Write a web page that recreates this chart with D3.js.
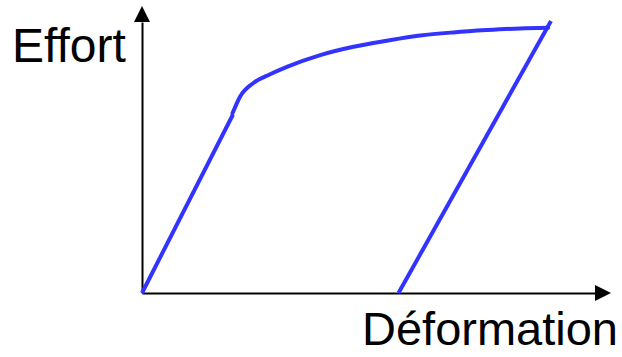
<!DOCTYPE html>
<html>
<head>
<meta charset="UTF-8">
<title>Effort - Déformation</title>
<script src="https://cdn.jsdelivr.net/npm/d3@7"></script>
<style>
body { margin: 0; background: #fff; }
text { font-family: "Liberation Sans", Arial, sans-serif; fill: #000; }
</style>
</head>
<body>
<div id="chart"></div>
<script>
// charge elastique
var elastic = [[0, 0], [19.4, 62.2]];
// plastification
var plastic = [[19.3, 62.6], [20.9, 68.4], [23.7, 73.1], [27.3, 76.2], [30.9, 78.8], [38.0, 82.9],
  [45.1, 85.8], [52.2, 87.9], [59.3, 89.7], [66.4, 90.8], [73.5, 91.6], [80.6, 92.2], [86.6, 92.4]];
// decharge
var unload = [[87.2, 94.8], [54.7, 0]];
var labels = { x: "Déformation", y: "Effort" };

var width = 622, height = 357;
var svg = d3.select("#chart").append("svg")
  .attr("width", width).attr("height", height);

var x = d3.scaleLinear().domain([0, 100]).range([142, 611]);
var y = d3.scaleLinear().domain([0, 100]).range([293, 6]);
var arrow = 16;

// axes (sans graduations)
svg.append("g")
  .attr("transform", "translate(0," + y(0) + ")")
  .call(d3.axisBottom(x.copy().range([x(0), x(100) - arrow])).tickValues([]).tickSizeOuter(0))
  .select(".domain").attr("stroke", "#000").attr("stroke-width", 2);
svg.append("g")
  .attr("transform", "translate(" + x(0) + ",0)")
  .call(d3.axisLeft(y.copy().range([y(0), y(100) + arrow])).tickValues([]).tickSizeOuter(0))
  .select(".domain").attr("stroke", "#000").attr("stroke-width", 2);

// fleches
svg.append("path")
  .attr("d", "M" + x(100) + "," + y(0) + "L" + (x(100) - arrow) + "," + (y(0) - 8) + "L" + (x(100) - arrow) + "," + (y(0) + 8) + "Z")
  .attr("fill", "#000");
svg.append("path")
  .attr("d", "M" + x(0) + "," + y(100) + "L" + (x(0) - 8) + "," + (y(100) + arrow) + "L" + (x(0) + 8) + "," + (y(100) + arrow) + "Z")
  .attr("fill", "#000");

var line = d3.line().x(function(d) { return x(d[0]); }).y(function(d) { return y(d[1]); });
var curve = d3.line().curve(d3.curveMonotoneX).x(function(d) { return x(d[0]); }).y(function(d) { return y(d[1]); });

[elastic, unload].forEach(function(d) {
  svg.append("path").attr("d", line(d))
    .attr("fill", "none").attr("stroke", "#3333ff").attr("stroke-width", 4);
});
svg.append("path").attr("d", curve(plastic))
  .attr("fill", "none").attr("stroke", "#3333ff").attr("stroke-width", 4)
  .attr("stroke-linecap", "round");

svg.append("text").attr("x", 12).attr("y", 62).attr("font-size", 48).text(labels.y);
svg.append("text").attr("x", 362).attr("y", 345).attr("font-size", 47).text(labels.x);
</script>
</body>
</html>
